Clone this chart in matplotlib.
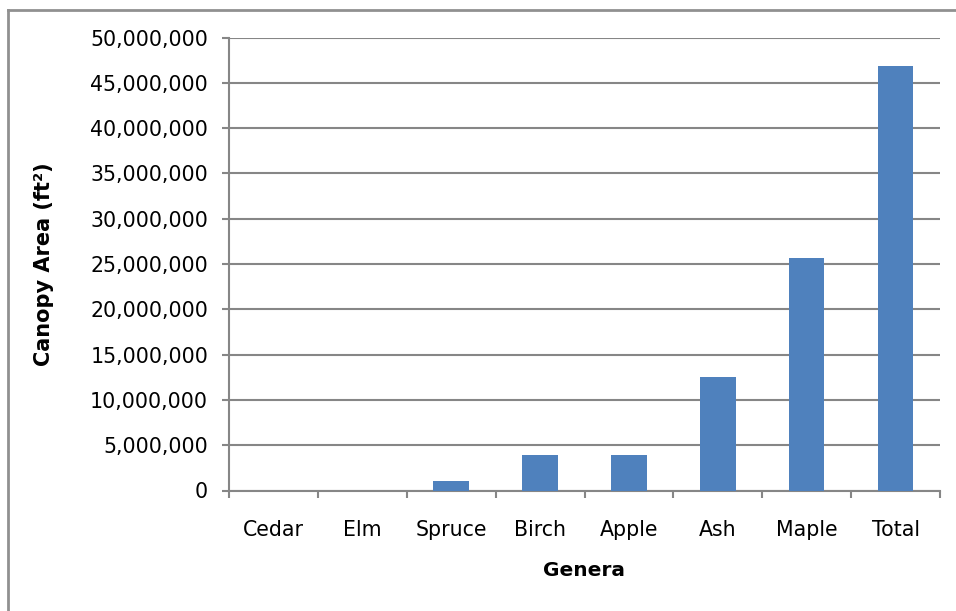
import matplotlib.pyplot as plt
from matplotlib.lines import Line2D
from matplotlib.ticker import FuncFormatter

# Данные
genera = ['Cedar', 'Elm', 'Spruce', 'Birch', 'Apple', 'Ash', 'Maple', 'Total']
canopy_area = [0, 0, 1030000, 3870000, 3870000, 12500000, 25700000, 46850000]

plt.rcParams['font.family'] = ['DejaVu Sans']

W, H = 956, 611
fig = plt.figure(figsize=(W / 100, H / 100), dpi=100)

# Область графика (в пикселях исходной картинки)
left, right, top, bottom = 229, 940, 37.5, 490.5
ax = fig.add_axes([left / W, 1 - bottom / H, (right - left) / W, (bottom - top) / H])

grid_color = '#868686'
ax.bar(range(len(genera)), canopy_area, width=0.4, color='#4F81BD', zorder=3)

ax.set_xlim(-0.5, len(genera) - 0.5)
ax.set_ylim(0, 50000000)
ax.set_yticks(range(0, 50000001, 5000000))
ax.yaxis.set_major_formatter(FuncFormatter(lambda v, p: f'{int(v):,}'))
ax.set_xticks([i - 0.5 for i in range(len(genera) + 1)], minor=False)
ax.set_xticklabels([])
ax.set_xticks(range(len(genera)), minor=True)
ax.set_xticklabels(genera, minor=True)

ax.grid(axis='y', color=grid_color, linewidth=1.5, zorder=0)
for s in ['top', 'right']:
    ax.spines[s].set_visible(False)
for s in ['left', 'bottom']:
    ax.spines[s].set_color(grid_color)
    ax.spines[s].set_linewidth(1.5)

ax.tick_params(axis='y', which='major', direction='out', length=5, color=grid_color,
               width=1.5, labelsize=14.8, pad=10)
ax.tick_params(axis='x', which='major', direction='out', length=5, color=grid_color, width=1.5)
ax.tick_params(axis='x', which='minor', length=0, labelsize=14.8, pad=21)

ax.set_xlabel('Genera', fontsize=14.5, fontweight='bold', va='center')
ax.xaxis.set_label_coords(0.5, -(570 - bottom) / (bottom - top))
ax.set_ylabel('Canopy Area (ft²)', fontsize=15, fontweight='bold', va='center', ha='center')
ax.yaxis.set_label_coords((44 - left) / (right - left), 0.5)

# Рамка области диаграммы (обрезанная)
fig.add_artist(Line2D([8 / W, 1], [1 - 10 / H, 1 - 10 / H], color='#909090', linewidth=2,
                      transform=fig.transFigure))
fig.add_artist(Line2D([8 / W, 8 / W], [0, 1 - 10 / H], color='#909090', linewidth=2,
                      transform=fig.transFigure))

plt.savefig('out.png', dpi=100)
